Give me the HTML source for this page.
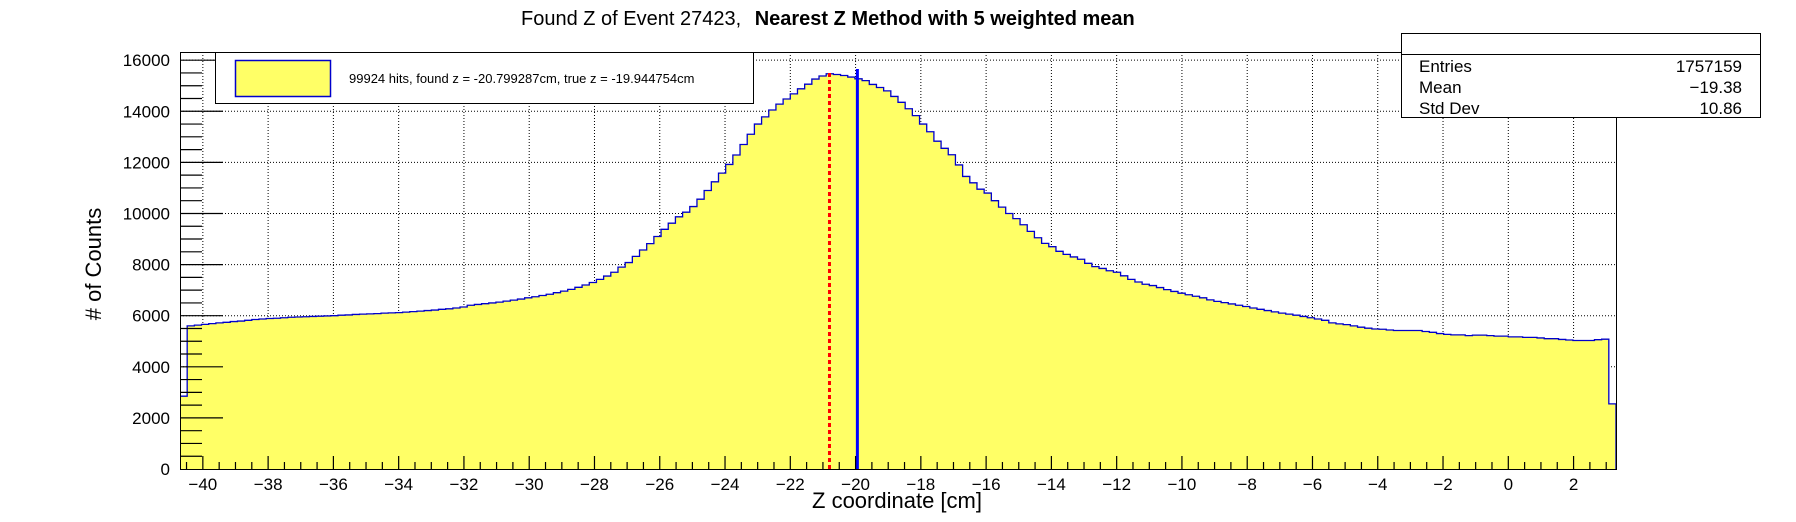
<!DOCTYPE html>
<html><head><meta charset="utf-8"><style>
html,body{margin:0;padding:0;background:#fff;}
svg{display:block;font-family:"Liberation Sans",sans-serif;}
</style></head><body>
<svg id="chart" width="1796" height="522" viewBox="0 0 1796 522">
<text x="521" y="25" font-size="20">Found Z of Event 27423,   <tspan font-weight="bold" dx="8">Nearest Z Method with 5 weighted mean</tspan></text>
<g id="grid"></g>
<g id="hist"></g>
<g id="axes"></g>
<text x="897" y="508" font-size="22" text-anchor="middle">Z coordinate [cm]</text>
<text transform="translate(101,264) rotate(-90)" font-size="22" text-anchor="middle"># of Counts</text>
<g>
<rect x="215.5" y="52.5" width="538" height="51" fill="#fff" stroke="#000" stroke-width="1"/>
<rect x="235.5" y="60.5" width="95" height="36" fill="#ffff66" stroke="#0000cc" stroke-width="1.5"/>
<text x="349" y="83" font-size="13">99924 hits, found z = -20.799287cm, true z = -19.944754cm</text>
</g>
<g>
<rect x="1401.5" y="33.5" width="359" height="84" fill="#fff" stroke="#000" stroke-width="1"/>
<line x1="1401" y1="54.5" x2="1761" y2="54.5" stroke="#000"/>
<text x="1419" y="72" font-size="17">Entries</text><text x="1742" y="72" font-size="17" text-anchor="end">1757159</text>
<text x="1419" y="93" font-size="17">Mean</text><text x="1742" y="93" font-size="17" text-anchor="end">−19.38</text>
<text x="1419" y="114" font-size="17">Std Dev</text><text x="1742" y="114" font-size="17" text-anchor="end">10.86</text>
</g>
</svg>
<script>
const xMin = -40.7, xMax = 3.3;
const yMax = 16320;
const binWidth = 0.22;
const counts = [
2850,5600,5630,5660,5690,5720,5740,5770,5790,5820,
5850,5870,5890,5900,5920,5940,5950,5960,5970,5980,
5990,6000,6020,6030,6050,6060,6070,6080,6100,6110,
6120,6140,6160,6180,6200,6220,6250,6270,6300,6340,
6410,6440,6470,6500,6530,6570,6610,6650,6700,6740,
6790,6840,6900,6960,7030,7110,7200,7300,7420,7550,
7700,7900,8080,8320,8570,8820,9100,9380,9620,9870,
10050,10270,10560,10900,11240,11580,11920,12290,12700,13100,
13500,13780,14050,14280,14480,14680,14880,15060,15260,15380,
15470,15440,15400,15340,15270,15200,15050,14930,14800,14580,
14350,14100,13830,13500,13200,12830,12550,12300,11900,11450,
11200,10950,10800,10500,10250,10000,9800,9560,9300,9050,
8830,8700,8520,8400,8300,8210,8050,7920,7850,7760,
7700,7560,7420,7320,7230,7180,7100,7020,6950,6880,
6820,6760,6700,6620,6560,6510,6460,6410,6360,6300,
6250,6200,6150,6100,6060,6020,5970,5920,5870,5820,
5720,5680,5650,5600,5550,5510,5480,5470,5440,5420,
5420,5420,5420,5380,5350,5300,5270,5250,5250,5220,
5240,5240,5220,5200,5200,5170,5170,5150,5150,5130,
5100,5100,5070,5050,5030,5030,5030,5060,5080,2550];
const xTicks = [-40,-38,-36,-34,-32,-30,-28,-26,-24,-22,-20,-18,-16,-14,-12,-10,-8,-6,-4,-2,0,2];
const yTicks = [0,2000,4000,6000,8000,10000,12000,14000,16000];
const foundZ = [-20.799287];
const trueZ = [-19.944754];
const markerHeight = [15500];

const L=180,R=1616,T=52,B=469;
const sx=v=>L+(v-xMin)/(xMax-xMin)*(R-L);
const sy=v=>B-v/yMax*(B-T);
const NS="http://www.w3.org/2000/svg";
function mk(tag,parent,attrs){const e=document.createElementNS(NS,tag);for(const k in attrs)e.setAttribute(k,attrs[k]);parent.appendChild(e);return e;}
const grid=document.getElementById('grid'),hist=document.getElementById('hist'),axes=document.getElementById('axes');
xTicks.forEach(t=>{const g=mk('line',grid,{x1:sx(t),x2:sx(t),y1:T,y2:B,stroke:'#000','stroke-width':1,'stroke-dasharray':'1,2'});

});
yTicks.forEach(t=>{const g=mk('line',grid,{x1:L,x2:R,y1:sy(t),y2:sy(t),stroke:'#000','stroke-width':1,'stroke-dasharray':'1,2'});

});
let d=`M${sx(xMin)},${B}`;
counts.forEach((c,i)=>{const x0=sx(xMin+i*binWidth),x1=sx(xMin+(i+1)*binWidth);d+=` L${x0},${sy(c)} L${x1},${sy(c)}`;});
d+=` L${sx(xMin+counts.length*binWidth)},${B} Z`;
const fill=mk('path',hist,{d:d,fill:'#ffff66',stroke:'none'});


let d2='';counts.forEach((c,i)=>{const x0=sx(xMin+i*binWidth),x1=sx(xMin+(i+1)*binWidth);d2+=(i?' L':'M')+`${x0},${sy(c)} L${x1},${sy(c)}`;});
const outline=mk('path',hist,{d:d2+` L${sx(xMin+counts.length*binWidth)},${B}`,fill:'none',stroke:'#0000cc','stroke-width':1.3});


const fl=mk('line',hist,{x1:sx(foundZ[0]),x2:sx(foundZ[0]),y1:B,y2:sy(markerHeight[0]),stroke:'#ff0000','stroke-width':3,'stroke-dasharray':'4,3'});


const tl=mk('line',hist,{x1:sx(trueZ[0]),x2:sx(trueZ[0]),y1:B,y2:sy(markerHeight[0])-4,stroke:'#0000ff','stroke-width':3});


const frame=mk('rect',axes,{x:L+0.5,y:T+0.5,width:R-L,height:B-T,fill:'none',stroke:'#000','stroke-width':1});


for(let v=-40.5;v<=xMax;v+=0.5){const maj=Math.abs(v/2-Math.round(v/2))<1e-6;
mk('line',axes,{x1:sx(v),x2:sx(v),y1:B,y2:B-(maj?13:7),stroke:'#000','stroke-width':1.2});}
for(let v=500;v<yMax;v+=500){const maj=v%2000===0;
mk('line',axes,{x1:L,x2:L+(maj?43:22),y1:sy(v),y2:sy(v),stroke:'#000','stroke-width':1.2});}
xTicks.forEach(t=>{const e=mk('text',axes,{x:sx(t),y:490,'font-size':17,'text-anchor':'middle'});e.textContent=(t<0?'−'+(-t):String(t));

});
yTicks.forEach(t=>{const e=mk('text',axes,{x:170,y:sy(t)+6,'font-size':17,'text-anchor':'end'});e.textContent=String(t);

});
</script>
</body></html>
